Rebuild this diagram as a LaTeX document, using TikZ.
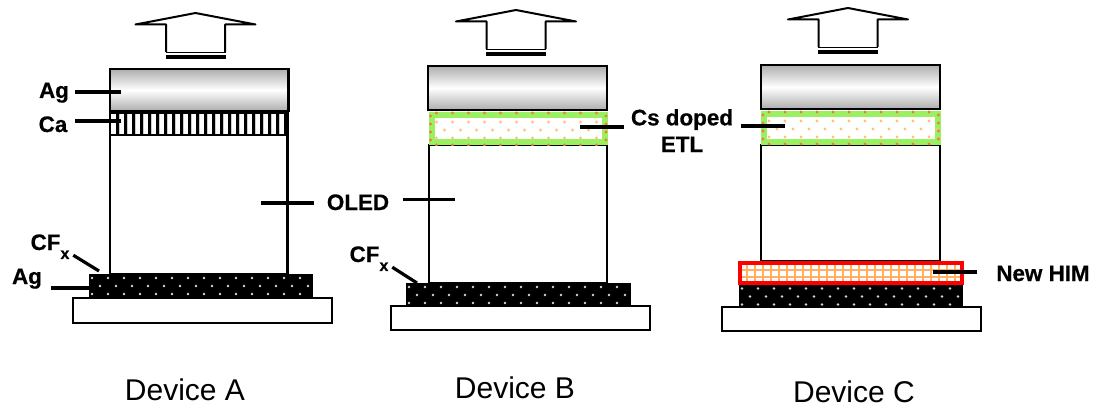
\documentclass[tikz,border=0pt]{standalone}
\usepackage{fontspec}
\setmainfont{Liberation Sans}[BoldFeatures={FakeBold=0.5}]
\usetikzlibrary{calc}
\tikzset{
  x=0.75pt,y=-0.75pt,
  box/.style={draw=black,line width=2.2pt,fill=white},
  outline/.style={draw=black,line width=1.5pt,line join=miter},
  lead/.style={draw=black,line width=2.4pt},
  lbl/.style={font=\fontsize{16.8}{20}\selectfont\bfseries,anchor=base,inner xsep=2pt,inner ysep=0pt,align=center},
  devcaption/.style={font=\fontsize{22.5}{24}\selectfont,anchor=base,inner sep=0pt},
}
\definecolor{etlgreen}{HTML}{9BF062}
\definecolor{dotdark}{HTML}{E8803A}
\definecolor{dotlight}{HTML}{FFC080}
\definecolor{himorange}{HTML}{FFB060}
% arrow: tip x, tip y
\newcommand{\uparrowshape}[2]{
  \draw[outline,line join=round] (#1-29.5,#2+39) -- (#1-29.5,#2+11.5) -- (#1-60,#2+11.5) -- (#1,#2) -- (#1+60,#2+11.5) -- (#1+29.5,#2+11.5) -- (#1+29.5,#2+39);
  \draw[draw=black,line width=1.3pt] (#1-30,#2+39.5) -- (#1+30,#2+39.5);
  \draw[draw=black,line width=3pt] (#1-30,#2+44.5) -- (#1+30,#2+44.5);
}
% metal cap: x1,y1,x2,y2
\newcommand{\metalcap}[4]{
  \path[shade,top color=black!32,bottom color=black!32,middle color=white] (#1,#2) rectangle (#3,#4);
  \draw[draw=black,line width=2.2pt] (#1,#2) rectangle (#3,#4);
}
% dotted dark electrode
\newcommand{\darklayer}[4]{
  \fill[black] (#1,#2) rectangle (#3,#4);
  \begin{scope}
    \clip (#1+1,#2+2) rectangle (#3-1,#4-2);
    \foreach \r in {0,1,2} {
      \pgfmathsetmacro{\yy}{#2+4+\r*8}
      \pgfmathsetmacro{\off}{mod(\r,2)*8}
      \foreach \k in {0,...,13} {
        \fill[white!85!black] (#1+3+\off+\k*16,\yy) circle (1.05pt);
      }
    }
  \end{scope}
}
% green doped ETL
\newcommand{\etllayer}[4]{
  \fill[etlgreen] (#1,#2) rectangle (#3,#4);
  \fill[white] (#1+6,#2+6) rectangle (#3-6,#4-6);
  \begin{scope}
    \clip (#1,#2) rectangle (#3,#4);
    \foreach \r in {0,1,2,3,4} {
      \pgfmathsetmacro{\yy}{#2+\r*8}
      \pgfmathsetmacro{\off}{mod(\r+1,2)*8}
      \foreach \k in {0,...,11} {
        \pgfmathsetmacro{\cc}{(\r==0||\r==4)?1:0}
        \ifdim\cc pt>0pt
          \fill[dotdark] (#1+8+\k*16,\yy+1) circle (1.3pt);
        \else
          \fill[dotlight] (#1+8+\off+\k*16,\yy+2) circle (1.3pt);
        \fi
      }
    }
    \foreach \r in {0,1,2,3} {
      \fill[dotdark] (#1+2,#2+4+\r*8) circle (1.3pt);
      \fill[dotdark] (#3-2,#2+4+\r*8) circle (1.3pt);
    }
  \end{scope}
}
\begin{document}
\begin{tikzpicture}
\useasboundingbox (0,0) rectangle (1096,410);

% ---- Device A
\uparrowshape{195.5}{13}
\draw[box] (110,135) rectangle (287.5,274);
\metalcap{110}{69}{288.5}{111}
\fill[white] (110,112) rectangle (288,135);
\foreach \k in {0,...,21} { \fill[black] (116+\k*8,112) rectangle ++(2.8,23); \fill[black!20] (119+\k*8,112) rectangle ++(1.2,23);}
\draw[draw=black,line width=2.2pt] (110,112.5) rectangle (288,135);
\darklayer{89}{274}{312.5}{298}
\draw[box] (73,298) rectangle (332,323);

% ---- Device B
\uparrowshape{516}{10}
\draw[box] (429,145) rectangle (607,283);
\metalcap{428}{66}{607}{110}
\etllayer{428.5}{112}{608}{145}
\darklayer{406}{283}{630.5}{306}
\draw[box] (391,306) rectangle (650,330);

% ---- Device C
\uparrowshape{848}{8}
\draw[box] (761,145) rectangle (940,261);
\metalcap{761}{65}{940}{109}
\etllayer{761}{111}{940.5}{145}
\fill[white] (739,262) rectangle (962,283);
\begin{scope}
  \clip (740,263) rectangle (961,283);
  \foreach \k in {0,...,27} { \fill[himorange] (746+\k*8,263) rectangle ++(2.4,20); }
  \foreach \k in {0,1} { \fill[himorange] (740,268.5+\k*7) rectangle ++(221,2.2); }
\end{scope}
\draw[draw=red,line width=2.7pt] (740,263) rectangle (962,283);
\darklayer{739}{284.5}{962.5}{307}
\draw[box] (722,307) rectangle (981,331);

% ---- Labels
\node[lbl] (agtop) at (54,98) {Ag};
\node[lbl] (ca) at (53,132) {Ca};
\node[lbl] (oled) at (358,210) {OLED};
\node[lbl] (cfA) at (50,250) {CF\raisebox{-0.4em}{\fontsize{12}{12}\selectfont x}};
\node[lbl] (agbot) at (27,284) {Ag};
\node[lbl] (cfB) at (369,262) {CF\raisebox{-0.4em}{\fontsize{12}{12}\selectfont x}};
\node[lbl] (cs) at (682,152) {Cs doped\\ETL};
\node[lbl] (him) at (1043,281) {New HIM};

\coordinate (eAgTop) at (121,92);
\coordinate (eCa) at (121,121);
\coordinate (eOledA) at (261,203);
\coordinate (eOledB) at (455,199.5);
\coordinate (eCfA) at (99,271);
\coordinate (eAgBot) at (89,288);
\coordinate (eCfB) at (417,283);
\coordinate (eCsB) at (580,127);
\coordinate (eCsC) at (785,126);
\coordinate (eHim) at (933,272);

\draw[lead,shorten <=2.2pt] (agtop.east |- eAgTop) -- (eAgTop);
\draw[lead,shorten <=3.7pt] (ca.east |- eCa) -- (eCa);
\draw[lead,shorten <=7.5pt] (oled.west |- eOledA) -- (eOledA);
\draw[lead,shorten <=8.2pt] (oled.east |- eOledB) -- (eOledB);
\draw[lead] ($(cfA.south east)+(1,-4)$) -- (eCfA);
\draw[lead,shorten <=4.5pt] (agbot.east |- eAgBot) -- (eAgBot);
\draw[lead] ($(cfB.south east)+(1,-4)$) -- (eCfB);
\draw[lead,shorten <=3pt] (cs.west |- eCsB) -- (eCsB);
\draw[lead,shorten <=3.7pt] (cs.east |- eCsC) -- (eCsC);
\draw[lead,shorten <=12pt] (him.west |- eHim) -- (eHim);

\node[devcaption] (devA) at (185,400) {Device A};
\node[devcaption] (devB) at (515,398) {Device B};
\node[devcaption] (devC) at (854,402) {Device C};
\end{tikzpicture}
\end{document}
